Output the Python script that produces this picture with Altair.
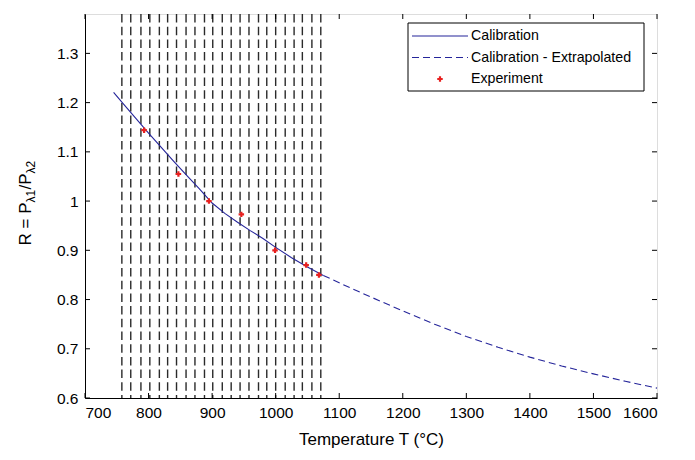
import altair as alt
import pandas as pd

# ---- data ----
cal_T = [745, 760, 780, 800, 820, 840, 860, 880, 900, 920, 940, 960, 980, 1000, 1025, 1050, 1075]
cal_R = [1.221, 1.198, 1.168, 1.138, 1.109, 1.080, 1.052, 1.025, 0.996, 0.975, 0.957, 0.940, 0.924, 0.906, 0.885, 0.866, 0.849]

ext_T = [1075, 1100, 1150, 1200, 1250, 1300, 1350, 1400, 1450, 1500, 1550, 1600]
ext_R = [0.849, 0.834, 0.805, 0.777, 0.750, 0.725, 0.703, 0.683, 0.665, 0.649, 0.634, 0.620]

exp_T = [793, 847, 895, 946, 999, 1048, 1068]
exp_R = [1.144, 1.055, 1.000, 0.973, 0.900, 0.870, 0.850]

vlines_T = [758, 772, 788, 802, 817, 830, 844, 859, 873, 888, 901, 916,
            930, 944, 958, 973, 986, 1000, 1015, 1029, 1042, 1057, 1071]

x_ticks = [700, 800, 900, 1000, 1100, 1200, 1300, 1400, 1500, 1600]
y_ticks = [0.6, 0.7, 0.8, 0.9, 1.0, 1.1, 1.2, 1.3]

legend_labels = ["Calibration", "Calibration - Extrapolated", "Experiment"]
ytitle_parts = ["R = P", "λ1", "/P", "λ2"]

W, H = 572, 384
FONT = "Liberation Sans"
BLUE = "#25259a"
RED = "#e8201f"
TICKF = 15.5
TITLEF = 17

xs = alt.Scale(domain=[700, 1600], nice=False)
ys = alt.Scale(domain=[0.6, 1.38], nice=False)

cal = pd.DataFrame({"T": cal_T, "R": cal_R})
ext = pd.DataFrame({"T": ext_T, "R": ext_R})
expd = pd.DataFrame({"T": exp_T, "R": exp_R})
vl = pd.DataFrame({"T": vlines_T})
xt = pd.DataFrame({"T": x_ticks})
yt = pd.DataFrame({"R": y_ticks})

xaxis = alt.Axis(values=x_ticks, title="Temperature T (°C)", grid=False, ticks=False, format="d",
                 labelFontSize=TICKF, titleFontSize=TITLEF, labelFont=FONT, titleFont=FONT,
                 labelColor="black", titleColor="black", domainColor="black",
                 labelPadding=7, titlePadding=11, titleFontWeight="normal")
yaxis = alt.Axis(values=y_ticks, title="", grid=False, ticks=False, format="~g",
                 labelFontSize=TICKF, labelFont=FONT,
                 labelColor="black", domainColor="black", labelPadding=7)

vlines = alt.Chart(vl).mark_rule(color="#2a2a2a", strokeWidth=1.4, strokeDash=[8.5, 4.2]).encode(
    x=alt.X("T:Q", scale=xs, axis=xaxis),
    y=alt.value(0), y2=alt.value(H))

cal_line = alt.Chart(cal).mark_line(color=BLUE, strokeWidth=1.1).encode(
    x=alt.X("T:Q", scale=xs), y=alt.Y("R:Q", scale=ys, axis=yaxis))
ext_line = alt.Chart(ext).mark_line(color=BLUE, strokeWidth=1.1, strokeDash=[7, 4]).encode(
    x=alt.X("T:Q", scale=xs), y=alt.Y("R:Q", scale=ys))
pts = alt.Chart(expd).mark_point(shape="cross", filled=True, color=RED, size=30, opacity=1).encode(
    x=alt.X("T:Q", scale=xs), y=alt.Y("R:Q", scale=ys))

# inward ticks (MATLAB box style)
tb = alt.Chart(xt).mark_rule(color="black").encode(x=alt.X("T:Q", scale=xs), y=alt.value(H), y2=alt.value(H - 5))
tt = alt.Chart(xt).mark_rule(color="black").encode(x=alt.X("T:Q", scale=xs), y=alt.value(0), y2=alt.value(5))
tl = alt.Chart(yt).mark_rule(color="black").encode(y=alt.Y("R:Q", scale=ys), x=alt.value(0), x2=alt.value(5))
tr = alt.Chart(yt).mark_rule(color="black").encode(y=alt.Y("R:Q", scale=ys), x=alt.value(W), x2=alt.value(W - 5))

# y title with subscripts
ymid = 189
seg_w = [2.529 * TITLEF, 1.076 * 12, 0.945 * TITLEF]
y0 = ymid + (sum(seg_w) + 1.076 * 12) / 2
ypos = [y0, y0 - seg_w[0], y0 - seg_w[0] - seg_w[1], y0 - seg_w[0] - seg_w[1] - seg_w[2]]
ytitle_layers = []
for i, (txt, yy) in enumerate(zip(ytitle_parts, ypos)):
    sub = i % 2 == 1
    ytitle_layers.append(
        alt.Chart(pd.DataFrame({"t": [txt]})).mark_text(
            align="left", baseline="alphabetic", angle=270, font=FONT,
            fontSize=12 if sub else TITLEF, color="black").encode(
            x=alt.value(-50 if sub else -54), y=alt.value(yy), text="t:N"))

# legend box
LX0, LX1, LY0, LY1 = 323, 559, 9, 77
rows = [22, 43.5, 65]
one = pd.DataFrame({"a": [0]})
box = alt.Chart(one).mark_rect(fill="white", stroke="black", strokeWidth=1).encode(
    x=alt.value(LX0), x2=alt.value(LX1), y=alt.value(LY0), y2=alt.value(LY1))
lg1 = alt.Chart(one).mark_rule(color=BLUE, strokeWidth=1.1).encode(
    x=alt.value(LX0 + 4), x2=alt.value(LX0 + 60), y=alt.value(rows[0]))
lg2 = alt.Chart(one).mark_rule(color=BLUE, strokeWidth=1.1, strokeDash=[7, 4]).encode(
    x=alt.value(LX0 + 4), x2=alt.value(LX0 + 60), y=alt.value(rows[1]))
lg3 = alt.Chart(one).mark_point(shape="cross", filled=True, color=RED, size=30, opacity=1).encode(
    x=alt.value(LX0 + 32), y=alt.value(rows[2]))
lgt = alt.Chart(pd.DataFrame({"t": legend_labels, "y": rows})).mark_text(
    align="left", baseline="middle", font=FONT, fontSize=14.2, color="black").encode(
    x=alt.value(LX0 + 63), y=alt.Y("y:Q", scale=None), text="t:N")

chart = alt.layer(vlines, cal_line, ext_line, pts, tb, tt, tl, tr, *ytitle_layers,
                  box, lg1, lg2, lg3, lgt).properties(
    width=W, height=H,
    autosize=alt.AutoSizeParams(type="none"),
    padding={"left": 77, "top": 6, "right": 20, "bottom": 58},
).configure_view(stroke="black", strokeWidth=1).configure(background="white")

chart.save("out.html", embed_options={"renderer": "svg", "actions": False})
